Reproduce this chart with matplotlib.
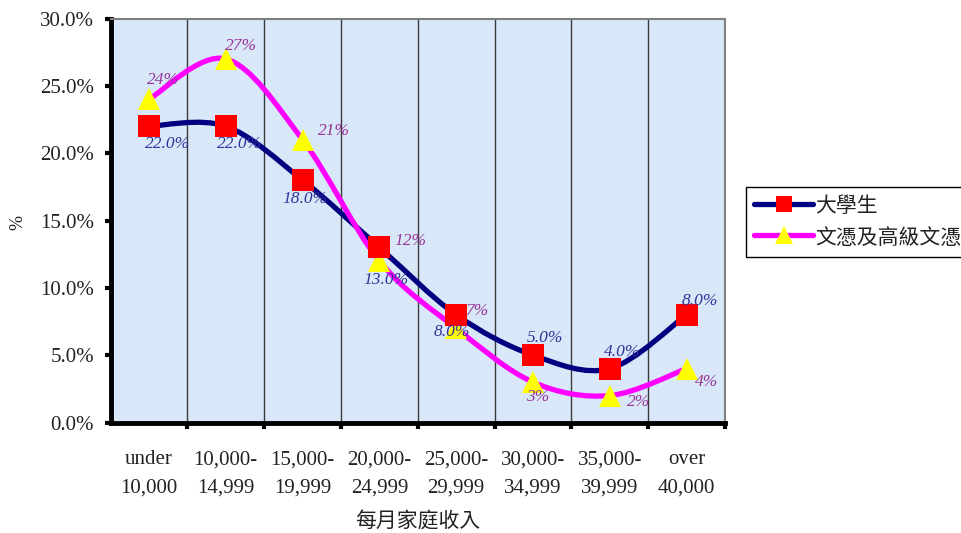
import numpy as np
import matplotlib
matplotlib.use("Agg")
import matplotlib.pyplot as plt
from matplotlib.path import Path
from matplotlib.patches import PathPatch
from matplotlib.lines import Line2D

# ---------------- data ----------------
categories = ["under\n10,000", "10,000-\n14,999", "15,000-\n19,999", "20,000-\n24,999",
              "25,000-\n29,999", "30,000-\n34,999", "35,000-\n39,999", "over\n40,000"]
series_names = ["大學生", "文憑及高級文憑"]
univ = [22.0, 22.0, 18.0, 13.0, 8.0, 5.0, 4.0, 8.0]
diploma = [24, 27, 21, 12, 7, 3, 2, 4]
univ_labels = ["22.0%", "22.0%", "18.0%", "13.0%", "8.0%", "5.0%", "4.0%", "8.0%"]
diploma_labels = ["24%", "27%", "21%", "12%", "7%", "3%", "2%", "4%"]
yticks = [0, 5, 10, 15, 20, 25, 30]
ytick_labels = ["0.0%", "5.0%", "10.0%", "15.0%", "20.0%", "25.0%", "30.0%"]
xlabel = "每月家庭收入"
ylabel = "%"

# label offsets in pixels (dx, dy downward positive)
univ_off = [(19, 18), (14, 18), (2, 19), (7, 33), (-4, 17), (12, -17), (12, -17), (13, -14)]
dip_off = [(14, -19), (15, -13), (31, -9), (31, -20), (21, -17), (5, 15), (29, 6), (20, 13)]

serif = "Liberation Serif"
cjk = ["Noto Sans CJK TC", "DejaVu Sans"]

W, H = 961, 533
fig = plt.figure(figsize=(W / 100, H / 100), dpi=100)
ax = fig.add_axes([110.5 / W, 1 - 422.5 / H, (725 - 110.5) / W, (422.5 - 18.5) / H])
ax.set_facecolor("#D9E8F8")

n = len(categories)
x = np.arange(n)
ax.set_xlim(-0.5, n - 0.5)
ax.set_ylim(0, 30)


def smooth_path(xs, ys):
    xs = np.asarray(xs, float)
    ys = np.asarray(ys, float)
    pts = np.column_stack([xs, ys])
    verts = [pts[0]]
    codes = [Path.MOVETO]
    for i in range(len(pts) - 1):
        p0 = pts[i - 1] if i > 0 else pts[i]
        p1 = pts[i]
        p2 = pts[i + 1]
        p3 = pts[i + 2] if i + 2 < len(pts) else pts[i + 1]
        c1 = p1 + (p2 - p0) / 6.0
        c2 = p2 - (p3 - p1) / 6.0
        verts += [c1, c2, p2]
        codes += [Path.CURVE4] * 3
    return Path(verts, codes)


# vertical gridlines at category boundaries
for b in np.arange(0.5, n - 0.5, 1.0):
    ax.axvline(b, color="#3a3a3a", lw=1.0, zorder=1)

line_cols = ["#000080", "#FF00FF"]
data = [univ, diploma]
for d, lc in zip(data, line_cols):
    ax.add_patch(PathPatch(smooth_path(x, d), facecolor="none", edgecolor=lc, lw=3.8,
                           zorder=3, capstyle="round", joinstyle="round"))
ax.plot(x, diploma, linestyle="none", marker="^", ms=16, mfc="#FFFF00", mec="#FFFF00",
        mew=0, zorder=5)
ax.plot(x, univ, linestyle="none", marker="s", ms=15.5, mfc="#FF0000", mec="#FF0000",
        mew=0, zorder=6)

px2pt = 0.72
for xi, v, lab, (dx, dy) in zip(x, univ, univ_labels, univ_off):
    ax.annotate(lab, (xi, v), xytext=(dx * px2pt, -dy * px2pt), textcoords="offset points",
                ha="center", va="center", fontsize=12.5, style="italic", family=serif,
                color="#333399", zorder=7)
for xi, v, lab, (dx, dy) in zip(x, diploma, diploma_labels, dip_off):
    ax.annotate(lab, (xi, v), xytext=(dx * px2pt, -dy * px2pt), textcoords="offset points",
                ha="center", va="center", fontsize=12.5, style="italic", family=serif,
                color="#993399", zorder=7)

# spines
for s in ["left", "bottom"]:
    ax.spines[s].set_linewidth(3.5)
    ax.spines[s].set_color("black")
for s in ["top", "right"]:
    ax.spines[s].set_linewidth(1.5)
    ax.spines[s].set_color("#808080")

ax.set_yticks(yticks)
ax.set_yticklabels(ytick_labels, family=serif, fontsize=15, color="#222222")
ax.tick_params(axis="y", direction="out", length=4, width=3, pad=8)

ax.set_xticks(np.arange(0.5, n, 1.0))
ax.set_xticklabels([])
ax.set_xticks(x, minor=True)
ax.set_xticklabels(categories, minor=True, family=serif, fontsize=15, color="#222222",
                   linespacing=1.65)
ax.tick_params(axis="x", which="major", direction="out", length=4, width=3)
ax.tick_params(axis="x", which="minor", length=0, pad=20)

fig.text(418 / W, 1 - 522 / H, xlabel, ha="center", va="center", fontsize=15,
         family=cjk, color="#222222")
fig.text(18 / W, 1 - 222 / H, ylabel, ha="center", va="center", rotation=90,
         fontsize=13, family=serif, color="#222222")

handles = [Line2D([], [], color=line_cols[0], lw=3.8, marker="s", ms=12, mfc="#FF0000",
                  mew=0, solid_capstyle="round"),
           Line2D([], [], color=line_cols[1], lw=3.8, marker="^", ms=13, mfc="#FFFF00",
                  mew=0, solid_capstyle="round")]
leg = fig.legend(handles, series_names, loc="upper left",
                 bbox_to_anchor=(746 / W, 1 - 187 / H), borderaxespad=0,
                 prop={"family": cjk, "size": 15}, frameon=True, fancybox=False,
                 edgecolor="black", framealpha=1, handlelength=2.8, handletextpad=0.1,
                 borderpad=0.4, labelspacing=0.45, handleheight=1.0)
leg.get_frame().set_linewidth(1.0)
for t in leg.get_texts():
    t.set_color("#222222")

fig.savefig("out.png", dpi=100)
